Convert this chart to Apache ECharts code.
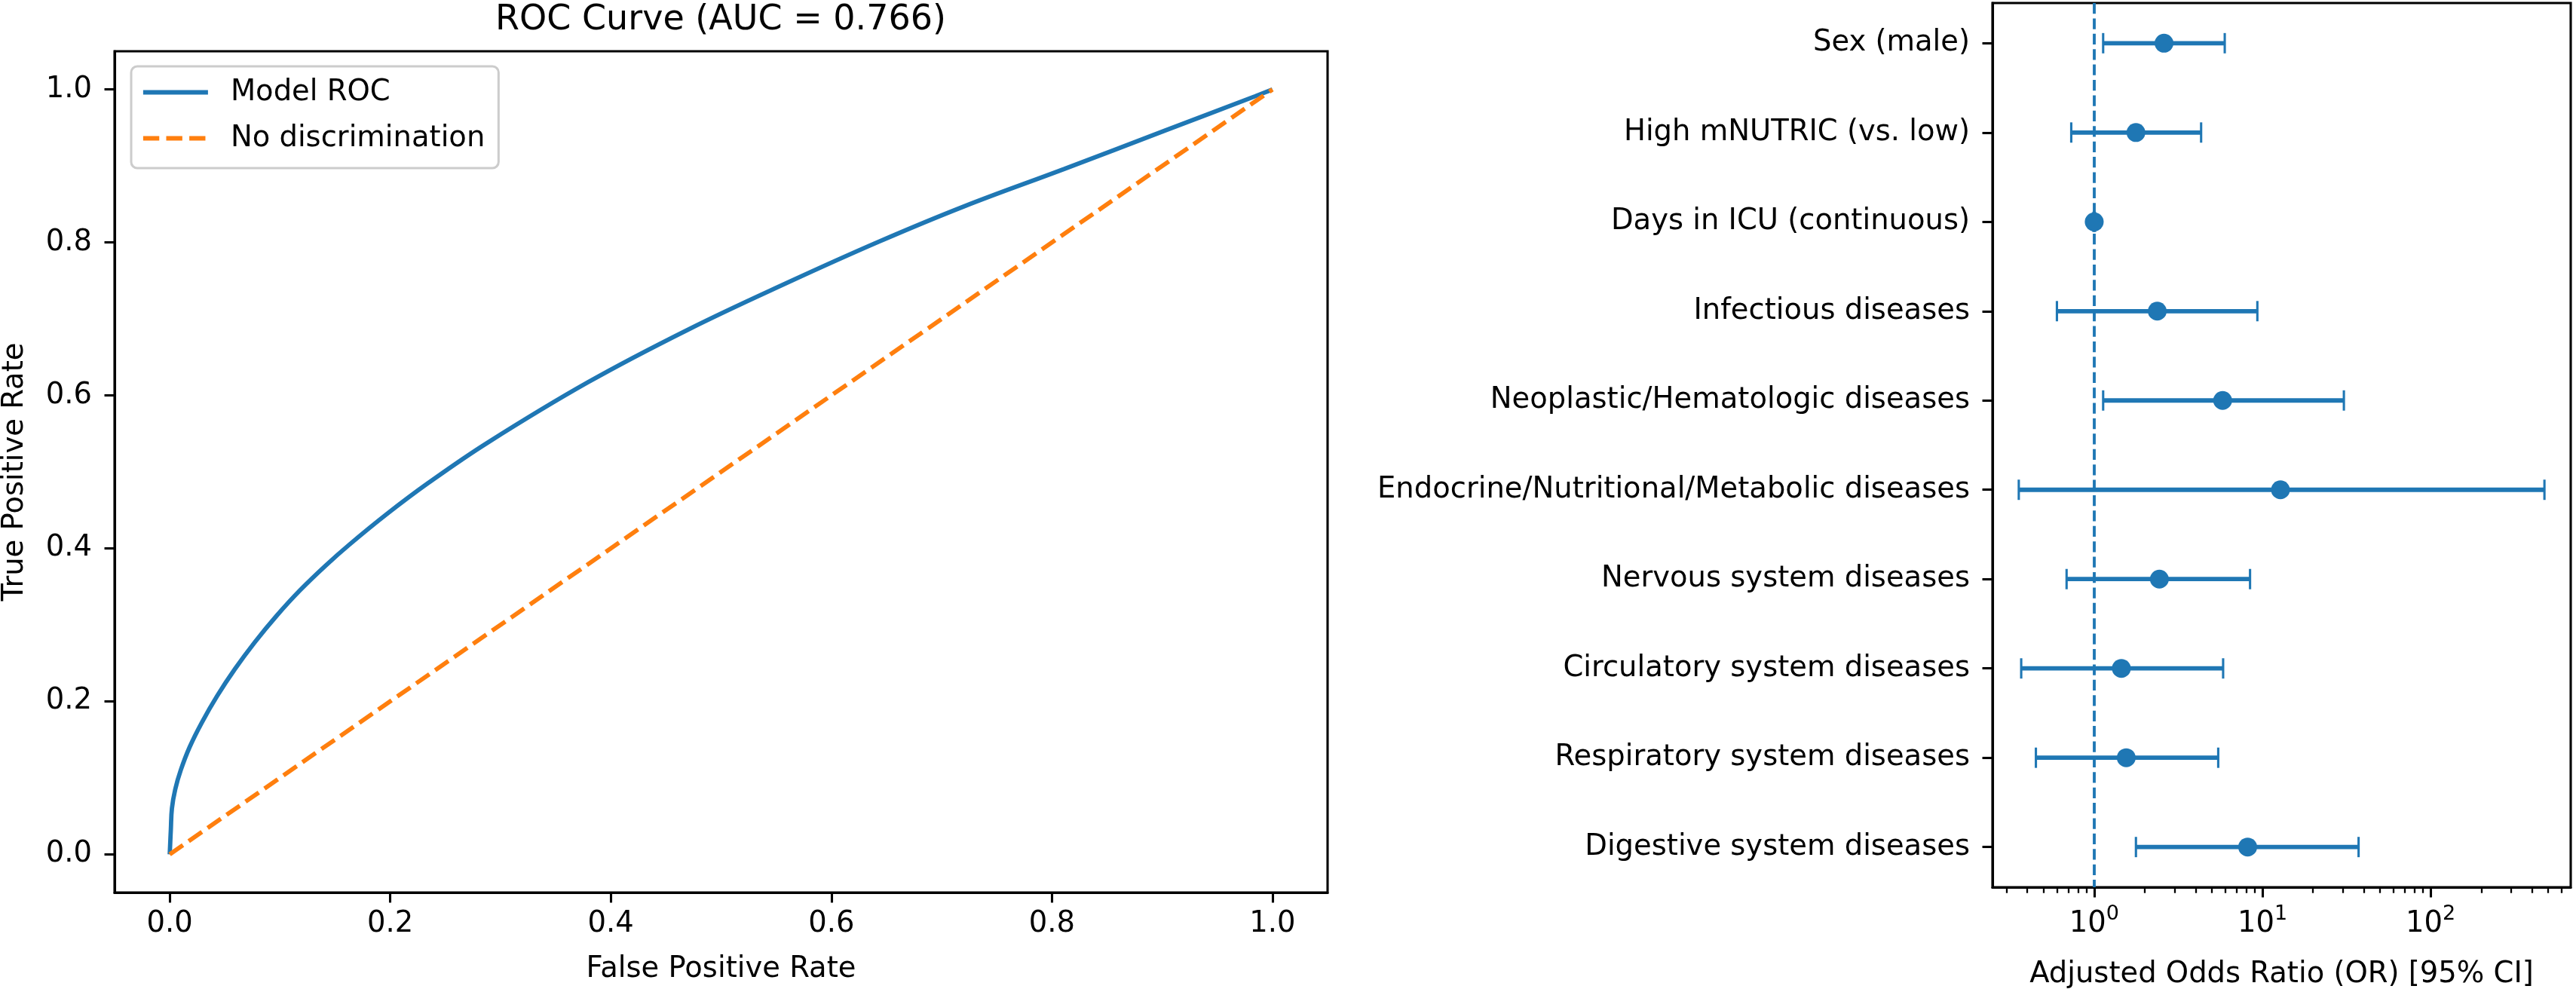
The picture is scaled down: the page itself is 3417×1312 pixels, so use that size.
<!DOCTYPE html>
<html>
<head>
<meta charset="utf-8">
<script src="https://cdn.jsdelivr.net/npm/echarts@6/dist/echarts.min.js"></script>
<style>
html,body{margin:0;padding:0;background:#ffffff;}
#chart{width:3417px;height:1312px;}
</style>
</head>
<body>
<div id="chart"></div>
<script>
// ---------------- data ----------------
const rocFpr = [0, 0.001, 0.002, 0.005, 0.010, 0.018, 0.029, 0.043, 0.059, 0.077, 0.097, 0.118, 0.141, 0.163, 0.197, 0.234, 0.288, 0.379, 0.470, 0.561, 0.643, 0.720, 0.811, 0.902, 0.984, 1.0];
const rocTpr = [0, 0.032, 0.060, 0.085, 0.110, 0.140, 0.172, 0.207, 0.242, 0.277, 0.312, 0.345, 0.377, 0.405, 0.445, 0.485, 0.538, 0.617, 0.686, 0.748, 0.801, 0.847, 0.896, 0.946, 0.991, 1.0];
const diagFpr = [0, 1];
const diagTpr = [0, 1];
const rocTicks = [0, 0.2, 0.4, 0.6, 0.8, 1.0];
const rocTitle = 'ROC Curve (AUC = 0.766)';

const factors = [
  'Sex (male)',
  'High mNUTRIC (vs. low)',
  'Days in ICU (continuous)',
  'Infectious diseases',
  'Neoplastic/Hematologic diseases',
  'Endocrine/Nutritional/Metabolic diseases',
  'Nervous system diseases',
  'Circulatory system diseases',
  'Respiratory system diseases',
  'Digestive system diseases'
];
const oddsRatio = [2.60, 1.77, 1.00, 2.37, 5.80, 12.8, 2.44, 1.45, 1.55, 8.17];
const ciLower   = [1.13, 0.73, 0.99, 0.60, 1.13, 0.356, 0.685, 0.368, 0.45, 1.77];
const ciUpper   = [5.97, 4.32, 1.01, 9.33, 30.5, 475, 8.44, 5.84, 5.46, 37.3];
const orMajorTicks = [1, 10, 100];
const orMinorTicks = [0.3, 0.4, 0.5, 0.6, 0.7, 0.8, 0.9, 2, 3, 4, 5, 6, 7, 8, 9, 20, 30, 40, 50, 60, 70, 80, 90, 200, 300, 400, 500, 600];
const orReference = 1;

// ---------------- styling ----------------
const FONT = 'DejaVu Sans';
const BLUE = '#1f77b4';
const ORANGE = '#ff7f0e';
const PT = 3.85;
const FS = 38.5;

const log10 = Math.log10;
const lgMin = log10(Math.min.apply(null, ciLower));
const lgMax = log10(Math.max.apply(null, ciUpper));
const lgPad = (lgMax - lgMin) * 0.05;
const catPad = (factors.length - 1) * 0.05;

const txt = {fontFamily: FONT, fontSize: FS, color: '#000'};
const axisLineStyle = {show: true, onZero: false, lineStyle: {color: '#000', width: 0.8 * PT}};
const majorTick = {show: true, inside: false, length: 3.5 * PT, lineStyle: {color: '#000', width: 0.8 * PT}};

const chart = echarts.init(document.getElementById('chart'), null, {renderer: 'canvas'});

const option = {
  backgroundColor: '#ffffff',
  animation: false,
  title: {
    text: rocTitle,
    left: 956,
    top: 4,
    padding: 0,
    textAlign: 'center',
    textStyle: {fontFamily: FONT, fontSize: 46, fontWeight: 'normal', color: '#000'}
  },
  legend: {
    data: ['Model ROC', 'No discrimination'],
    orient: 'vertical',
    left: 174,
    top: 88,
    padding: [15, 18, 20, 13],
    itemGap: 22,
    itemWidth: 86,
    itemHeight: 20,
    selectedMode: false,
    backgroundColor: 'rgba(255,255,255,0.8)',
    borderColor: '#cccccc',
    borderWidth: 3,
    borderRadius: 8,
    itemStyle: {opacity: 0},
    lineStyle: {width: 1.5 * PT},
    textStyle: {fontFamily: FONT, fontSize: FS, color: '#000', padding: [0, 0, 0, 25]}
  },
  grid: [
    {left: 152, top: 68, right: 1656, bottom: 128, show: true, borderColor: '#000', borderWidth: 0.8 * PT, backgroundColor: 'transparent', outerBoundsMode: 'none'},
    {left: 2643, top: 4, right: 7, bottom: 135, show: true, borderColor: '#000', borderWidth: 0.8 * PT, backgroundColor: 'transparent', outerBoundsMode: 'none'}
  ],
  xAxis: [
    {
      gridIndex: 0, type: 'value', min: -0.05, max: 1.05, position: 'bottom',
      axisLine: axisLineStyle,
      axisTick: Object.assign({customValues: rocTicks}, majorTick),
      axisLabel: Object.assign({customValues: rocTicks, margin: 22, formatter: v => v.toFixed(1)}, txt),
      splitLine: {show: false},
      name: 'False Positive Rate', nameLocation: 'middle', nameGap: 82,
      nameTextStyle: txt
    },
    {
      gridIndex: 1, type: 'value', min: lgMin - lgPad, max: lgMax + lgPad, position: 'bottom',
      axisLine: axisLineStyle,
      axisTick: Object.assign({customValues: orMajorTicks.map(log10)}, majorTick),
      axisLabel: Object.assign({
        customValues: orMajorTicks.map(log10), margin: 22,
        formatter: v => '{b|10}{s|' + Math.round(v) + '}',
        rich: {
          b: {fontFamily: FONT, fontSize: FS, color: '#000', lineHeight: 46, verticalAlign: 'bottom'},
          s: {fontFamily: FONT, fontSize: 27, color: '#000', lineHeight: 46, verticalAlign: 'top'}
        }
      }, txt),
      splitLine: {show: false},
      name: 'Adjusted Odds Ratio (OR) [95% CI]', nameLocation: 'middle', nameGap: 96,
      nameTextStyle: txt
    },
    {
      gridIndex: 1, type: 'value', min: lgMin - lgPad, max: lgMax + lgPad, position: 'bottom',
      axisLine: {show: false, onZero: false},
      axisTick: {show: true, inside: false, customValues: orMinorTicks.map(log10), length: 2 * PT, lineStyle: {color: '#000', width: 0.6 * PT}},
      axisLabel: {show: false},
      splitLine: {show: false}
    }
  ],
  yAxis: [
    {
      gridIndex: 0, type: 'value', min: -0.05, max: 1.05, position: 'left',
      axisLine: axisLineStyle,
      axisTick: Object.assign({customValues: rocTicks}, majorTick),
      axisLabel: Object.assign({customValues: rocTicks, margin: 30, formatter: v => v.toFixed(1)}, txt),
      splitLine: {show: false},
      name: 'True Positive Rate', nameLocation: 'middle', nameGap: 113, nameRotate: 90,
      nameTextStyle: txt
    },
    {
      gridIndex: 1, type: 'value', inverse: true, min: -catPad, max: factors.length - 1 + catPad, position: 'left',
      axisLine: axisLineStyle,
      axisTick: Object.assign({customValues: factors.map((f, i) => i)}, majorTick),
      axisLabel: Object.assign({customValues: factors.map((f, i) => i), margin: 30, formatter: v => factors[Math.round(v)]}, txt),
      splitLine: {show: false}
    }
  ],
  series: [
    {
      name: 'Model ROC', type: 'line', xAxisIndex: 0, yAxisIndex: 0,
      data: rocFpr.map((x, i) => [x, rocTpr[i]]),
      symbol: 'none', showSymbol: false, smooth: 0.4,
      lineStyle: {color: BLUE, width: 1.5 * PT},
      itemStyle: {color: BLUE},
      z: 3
    },
    {
      name: 'No discrimination', type: 'line', xAxisIndex: 0, yAxisIndex: 0,
      data: diagFpr.map((x, i) => [x, diagTpr[i]]),
      symbol: 'none', showSymbol: false,
      lineStyle: {color: ORANGE, width: 1.5 * PT, type: [3.7 * 1.5 * PT, 1.6 * 1.5 * PT]},
      itemStyle: {color: ORANGE},
      z: 4
    },
    {
      type: 'custom', xAxisIndex: 1, yAxisIndex: 1,
      data: factors.map((f, i) => [log10(ciLower[i]), log10(ciUpper[i]), i]),
      encode: {x: [0, 1], y: 2},
      renderItem: function (params, api) {
        const y = api.value(2);
        const p1 = api.coord([api.value(0), y]);
        const p2 = api.coord([api.value(1), y]);
        const h = 3.5 * PT;
        const bar = {stroke: BLUE, lineWidth: 1.5 * PT};
        const cap = {stroke: BLUE, lineWidth: 0.8 * PT};
        return {
          type: 'group',
          children: [
            {type: 'line', shape: {x1: p1[0], y1: p1[1], x2: p2[0], y2: p2[1]}, style: bar},
            {type: 'line', shape: {x1: p1[0], y1: p1[1] - h, x2: p1[0], y2: p1[1] + h}, style: cap},
            {type: 'line', shape: {x1: p2[0], y1: p2[1] - h, x2: p2[0], y2: p2[1] + h}, style: cap}
          ]
        };
      },
      z: 3
    },
    {
      type: 'scatter', xAxisIndex: 1, yAxisIndex: 1,
      data: factors.map((f, i) => [log10(oddsRatio[i]), i]),
      symbol: 'circle', symbolSize: 25,
      itemStyle: {color: BLUE, opacity: 1},
      z: 5,
      markLine: {
        silent: true,
        symbol: ['none', 'none'],
        label: {show: false},
        lineStyle: {color: BLUE, width: 1 * PT, type: [3.7 * PT, 1.6 * PT], opacity: 1},
        data: [{xAxis: log10(orReference)}],
        z: 2
      }
    }
  ]
};
chart.setOption(option);
</script>
</body>
</html>
